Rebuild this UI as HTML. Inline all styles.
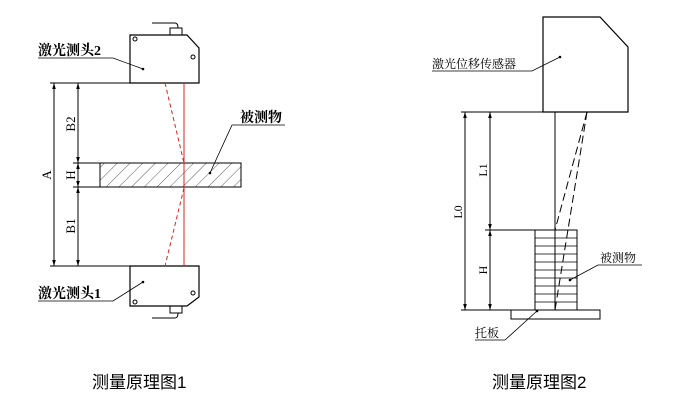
<!DOCTYPE html>
<html><head><meta charset="utf-8"><style>
html,body{margin:0;padding:0;background:#fff;}
svg{display:block;}
text{font-family:"Liberation Serif","Noto Serif CJK SC",serif;fill:#000;}
.cap{font-family:"Liberation Sans","Noto Sans CJK SC",sans-serif;font-size:17px;}
</style></head><body>
<svg width="695" height="401" viewBox="0 0 695 401" xmlns="http://www.w3.org/2000/svg">
<defs>
<pattern id="h" width="9" height="9" patternUnits="userSpaceOnUse" patternTransform="rotate(45)">
<line x1="0" y1="0" x2="0" y2="9" stroke="#333" stroke-width="0.8"/>
</pattern>
<marker id="ar" viewBox="0 0 10 10" refX="10" refY="5" markerWidth="6" markerHeight="6" orient="auto-start-reverse"><path d="M0,2 L10,5 L0,8z" fill="#000"/></marker>
</defs>
<g stroke="#000" fill="none" stroke-width="1">
<!-- Left diagram -->
<path d="M130,35 H187 L199,48 V83 H130 Z" fill="#fff" stroke-width="1.2"/>
<path d="M170,35 V28 H182 V35 M152,23 H175 Q178,23 178,28" />
<path d="M130,266 H199 V297 L187,306 H130 Z" fill="#fff" stroke-width="1.2"/>
<path d="M170,306 V313 H182 V306 M152,318 H175 Q178,318 178,313"/>
<circle cx="135" cy="39" r="2"/><circle cx="193" cy="57" r="2"/>
<circle cx="135" cy="302" r="2"/><circle cx="193" cy="293" r="2"/>
<line x1="50" y1="83" x2="130" y2="83"/>
<line x1="50" y1="266" x2="130" y2="266"/>
<rect x="100" y="163" width="141" height="24" fill="url(#h)"/>
<line x1="73" y1="163" x2="100" y2="163"/><line x1="73" y1="187" x2="100" y2="187"/>
<line x1="54" y1="83" x2="54" y2="266" marker-start="url(#ar)" marker-end="url(#ar)"/>
<line x1="78" y1="83" x2="78" y2="163" marker-start="url(#ar)" marker-end="url(#ar)"/>
<line x1="78" y1="163" x2="78" y2="187" marker-start="url(#ar)" marker-end="url(#ar)"/>
<line x1="78" y1="187" x2="78" y2="266" marker-start="url(#ar)" marker-end="url(#ar)"/>
<line x1="184" y1="83" x2="184" y2="266" stroke="#e02020"/>
<line x1="165" y1="83" x2="184" y2="163" stroke="#e02020" stroke-dasharray="4,3"/>
<line x1="184" y1="188" x2="165" y2="266" stroke="#e02020" stroke-dasharray="4,3"/>
<path d="M38,58 H113 L143,69" stroke-width="0.8"/>
<path d="M38,301 H113 L143,282" stroke-width="0.8"/>
<path d="M285,125 H232 L210,173" stroke-width="0.8"/>
<!-- Right diagram -->
<path d="M543,17 H600 L628,47 V112 H543 Z" fill="#fff" stroke-width="1.2"/>
<path d="M432,71 H532 L560,57" stroke-width="0.8"/>
<line x1="461" y1="112" x2="543" y2="112"/>
<line x1="485" y1="230" x2="535" y2="230"/>
<line x1="461" y1="310" x2="511" y2="310"/>
<line x1="465" y1="112" x2="465" y2="310" marker-start="url(#ar)" marker-end="url(#ar)"/>
<line x1="490" y1="112" x2="490" y2="230" marker-start="url(#ar)" marker-end="url(#ar)"/>
<line x1="490" y1="230" x2="490" y2="310" marker-start="url(#ar)" marker-end="url(#ar)"/>
<rect x="535" y="230" width="42" height="80"/>
<path d="M535,238H577M535,246H577M535,254H577M535,262H577M535,270H577M535,278H577M535,286H577M535,294H577M535,302H577" stroke-width="0.7"/>
<line x1="555" y1="112" x2="555" y2="310"/>
<line x1="587" y1="112" x2="555" y2="230" stroke-dasharray="8,4"/>
<line x1="587" y1="112" x2="555" y2="310" stroke-dasharray="8,4"/>
<rect x="511" y="310" width="89" height="9" fill="#fff"/>
<path d="M642,265 H598 L570,280" stroke-width="0.8"/>
<path d="M475,340 H505 L537,311" stroke-width="0.8"/>
</g>
<g fill="#000">
<circle cx="143" cy="69" r="1.3"/><circle cx="143" cy="282" r="1.3"/><circle cx="210" cy="173" r="1.3"/>
<circle cx="560" cy="57" r="1.3"/><circle cx="570" cy="280" r="1.3"/><circle cx="537" cy="311" r="1.3"/>
</g>
<text x="38" y="55" font-size="14" font-weight="bold">激光测头2</text>
<text x="38" y="298" font-size="14" font-weight="bold">激光测头1</text>
<text x="240" y="122" font-size="14" font-weight="bold">被测物</text>
<text font-size="13" transform="translate(51,175) rotate(-90)" text-anchor="middle">A</text>
<text font-size="13" transform="translate(75,124) rotate(-90)" text-anchor="middle">B2</text>
<text font-size="13" transform="translate(75,175) rotate(-90)" text-anchor="middle">H</text>
<text font-size="13" transform="translate(75,226) rotate(-90)" text-anchor="middle">B1</text>
<text x="432" y="68" font-size="12">激光位移传感器</text>
<text x="600" y="262" font-size="12">被测物</text>
<text x="475" y="337" font-size="12">托板</text>
<text font-size="12" transform="translate(462,212) rotate(-90)" text-anchor="middle">L0</text>
<text font-size="12" transform="translate(487,170) rotate(-90)" text-anchor="middle">L1</text>
<text font-size="12" transform="translate(487,270) rotate(-90)" text-anchor="middle">H</text>
<text class="cap" x="92" y="388">测量原理图1</text>
<text class="cap" x="492" y="388">测量原理图2</text>
</svg>
</body></html>
